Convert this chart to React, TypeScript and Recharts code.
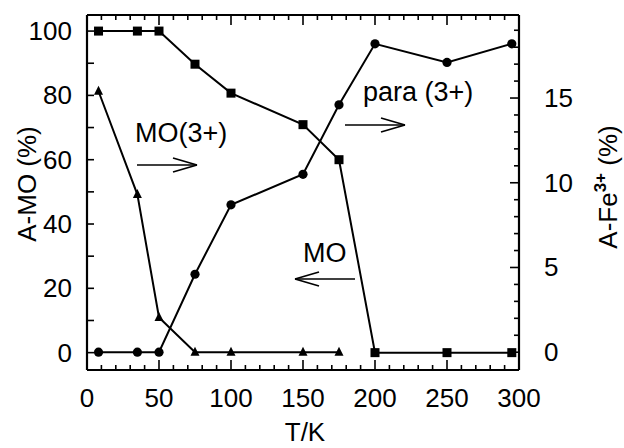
import { ComposedChart, Line, XAxis, YAxis, ReferenceLine } from 'recharts';

// temperature series (K) and the three measured fractions
const temperatures = [8, 35, 50, 75, 100, 150, 175, 200, 250, 295];
const moFraction = [100, 100, 100, 89.7, 80.7, 70.9, 60, 0, 0, 0];
const paraFe3 = [0, 0, 0, 4.6, 8.7, 10.5, 14.6, 18.2, 17.1, 18.2];
const moFe3 = [15.4, 9.3, 2.05, 0, 0, 0, 0, null, null, null];

const xLabels = [0, 50, 100, 150, 200, 250, 300];
const leftLabels = [0, 20, 40, 60, 80, 100];
const rightLabels = [0, 5, 10, 15];

const range = (from: number, to: number, step: number) => {
  const out: number[] = [];
  for (let v = from; v <= to; v += step) out.push(v);
  return out;
};
const xTicks = range(0, 300, 10);
const leftTicks = range(0, 100, 10);
const rightTicks = range(0, 19, 1);

const rows = temperatures.map((t, i) => ({ t, mo: moFraction[i], para: paraFe3[i], mo3: moFe3[i] }));

const W = 624;
const H = 448;
const PLOT = { left: 87, top: 15, right: 519, bottom: 370 };
const FONT = '"Liberation Sans", Arial, sans-serif';

const XTick = (props: any) => {
  const x = props.x;
  const v = props.payload.value;
  const major = xLabels.includes(v);
  const len = major ? 10 : 5;
  return (
    <g>
      <line x1={x} x2={x} y1={PLOT.bottom} y2={PLOT.bottom - len} stroke="#000" strokeWidth={1.6} />
      <line x1={x} x2={x} y1={PLOT.top} y2={PLOT.top + len} stroke="#000" strokeWidth={1.6} />
      {major && (
        <text x={x} y={PLOT.bottom + 37} textAnchor="middle" fontSize={26} fontFamily={FONT} fill="#000">
          {v}
        </text>
      )}
    </g>
  );
};

const LeftTick = (props: any) => {
  const y = props.y;
  const v = props.payload.value;
  return (
    <g>
      <line x1={PLOT.left} x2={PLOT.left + 7} y1={y} y2={y} stroke="#000" strokeWidth={1.6} />
      {leftLabels.includes(v) && (
        <text x={PLOT.left - 15} y={y + 9} textAnchor="end" fontSize={26} fontFamily={FONT} fill="#000">
          {v}
        </text>
      )}
    </g>
  );
};

const RightTick = (props: any) => {
  const y = props.y;
  const v = props.payload.value;
  const major = rightLabels.includes(v);
  return (
    <g>
      <line x1={PLOT.right} x2={PLOT.right - (major ? 9 : 5)} y1={y} y2={y} stroke="#000" strokeWidth={1.6} />
      {major && (
        <text x={PLOT.right + 25} y={y + 9} textAnchor="start" fontSize={26} fontFamily={FONT} fill="#000">
          {v}
        </text>
      )}
    </g>
  );
};

const SquareDot = (p: any) =>
  p.cy == null ? <g key={p.key} /> : <rect key={p.key} x={p.cx - 4.5} y={p.cy - 4.5} width={9} height={9} fill="#000" />;
const CircleDot = (p: any) =>
  p.cy == null ? <g key={p.key} /> : <circle key={p.key} cx={p.cx} cy={p.cy} r={4.6} fill="#000" />;
const TriangleDot = (p: any) =>
  p.cy == null ? (
    <g key={p.key} />
  ) : (
    <polygon key={p.key} points={`${p.cx},${p.cy - 5.5} ${p.cx - 4.5},${p.cy + 3.5} ${p.cx + 4.5},${p.cy + 3.5}`} fill="#000" />
  );

const Arrow = ({ x1, x2, y }: { x1: number; x2: number; y: number }) => {
  const d = Math.sign(x2 - x1);
  return (
    <g stroke="#000" strokeWidth={1.7} fill="none">
      <line x1={x1} x2={x2} y1={y} y2={y} />
      <line x1={x2} y1={y} x2={x2 - d * 24} y2={y - 7} />
      <line x1={x2} y1={y} x2={x2 - d * 24} y2={y + 7} />
    </g>
  );
};

export default function App() {
  return (
    <div style={{ position: 'fixed', left: 0, top: 0, width: W, height: H, background: '#fff', fontFamily: FONT }}>
      <ComposedChart width={W} height={H} data={rows} margin={{ top: 15, left: 27, right: 45, bottom: 38 }}>
        <XAxis
          dataKey="t"
          type="number"
          domain={[0, 300]}
          ticks={xTicks}
          interval={0}
          height={40}
          tickLine={false}
          axisLine={{ stroke: '#000', strokeWidth: 2.2 }}
          tick={XTick}
        />
        <YAxis
          yAxisId="left"
          domain={[-5.4, 105]}
          ticks={leftTicks}
          interval={0}
          width={60}
          tickLine={false}
          allowDataOverflow
          axisLine={{ stroke: '#000', strokeWidth: 2.2 }}
          tick={LeftTick}
        />
        <YAxis
          yAxisId="right"
          orientation="right"
          domain={[-1.05, 19.9]}
          ticks={rightTicks}
          interval={0}
          width={60}
          tickLine={false}
          allowDataOverflow
          axisLine={{ stroke: '#000', strokeWidth: 2.2 }}
          tick={RightTick}
        />
        <ReferenceLine yAxisId="left" y={105} stroke="#000" strokeWidth={2.2} />
        <Line yAxisId="left" dataKey="mo" type="linear" stroke="#000" strokeWidth={2} dot={SquareDot} isAnimationActive={false} />
        <Line yAxisId="right" dataKey="para" type="linear" stroke="#000" strokeWidth={2} dot={CircleDot} isAnimationActive={false} />
        <Line yAxisId="right" dataKey="mo3" type="linear" stroke="#000" strokeWidth={2} dot={TriangleDot} isAnimationActive={false} />

        <g fontFamily={FONT} fill="#000">
          <text x={135} y={142} fontSize={27}>MO(3+)</text>
          <text x={363} y={101} fontSize={27}>para (3+)</text>
          <text x={303} y={262} fontSize={27}>MO</text>
          <text x={305} y={441} fontSize={26} textAnchor="middle">T/K</text>
          <text transform="rotate(-90)" x={-184} y={36} fontSize={26} textAnchor="middle">A-MO (%)</text>
          <text transform="rotate(-90)" x={-187} y={617} fontSize={26} textAnchor="middle">
            A-Fe<tspan dy={-11} fontSize={17} fontWeight="bold">3+</tspan>
            <tspan dy={11}> (%)</tspan>
          </text>
        </g>
        <Arrow x1={137} x2={197} y={165} />
        <Arrow x1={345} x2={405} y={125} />
        <Arrow x1={355} x2={295} y={279} />
      </ComposedChart>
    </div>
  );
}
